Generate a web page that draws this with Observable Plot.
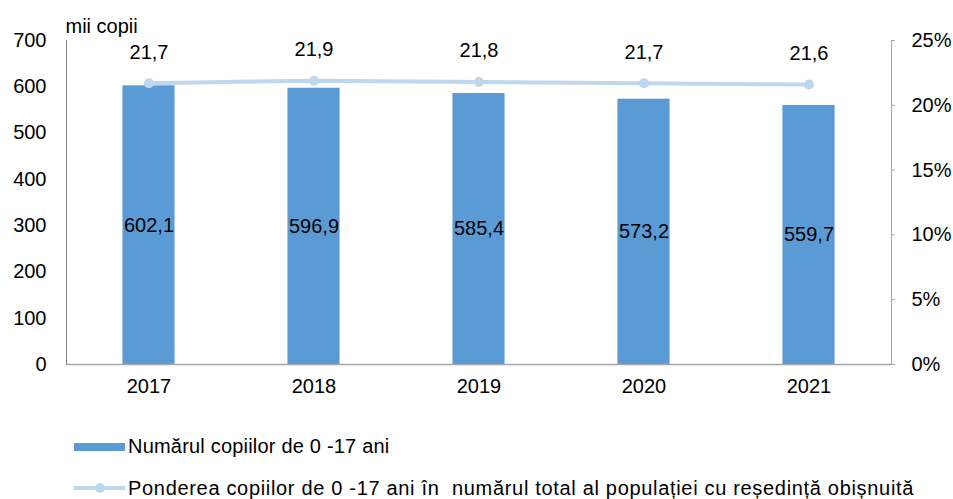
<!DOCTYPE html>
<html><head><meta charset="utf-8">
<script src="https://cdn.jsdelivr.net/npm/d3@7"></script>
<script src="https://cdn.jsdelivr.net/npm/@observablehq/plot@0.6"></script>
<style>
body{margin:0;background:#fff;font-family:"Liberation Sans",Arial,sans-serif;}
#wrap{position:relative;width:953px;height:499px;}
.leg{position:absolute;left:74px;display:flex;align-items:center;font-size:20px;color:#000;white-space:pre;}
.sw{display:inline-block;width:51px;height:8px;background:#5B9BD5;margin-right:3px;}
</style></head>
<body><div id="wrap"><div id="chart"></div>
<div class="leg" style="top:435px"><span class="sw"></span><span id="l1" style="letter-spacing:0.2px"></span></div>
<div class="leg" style="top:476px"><svg width="54" height="24"><line x1="0" x2="51" y1="12" y2="12" stroke="#BDD7EE" stroke-width="4"/><circle cx="26" cy="12" r="5" fill="#BDD7EE"/></svg><span id="l2" style="letter-spacing:0.68px"></span></div>
</div>
<script>
const years = ["2017", "2018", "2019", "2020", "2021"];
const counts = [602.1, 596.9, 585.4, 573.2, 559.7];
const shares = [21.7, 21.9, 21.8, 21.7, 21.6];
const leftTicks = [0, 100, 200, 300, 400, 500, 600, 700];
const rightTicks = [0, 5, 10, 15, 20, 25];
const seriesNames = ["Numărul copiilor de 0 -17 ani", "Ponderea copiilor de 0 -17 ani în  numărul total al populației cu reședință obișnuită"];
const unitLabel = "mii copii";

const k = 700 / 25;
const data = years.map((y, i) => ({year: y, count: counts[i], share: shares[i]}));
const fmt = v => v.toFixed(1).replace(".", ",");

const chart = Plot.plot({
  width: 953, height: 420,
  marginLeft: 66, marginRight: 62, marginTop: 40, marginBottom: 56,
  x: {domain: years, paddingInner: 0.684, paddingOuter: 0.342, round: false, label: null},
  y: {domain: [0, 700], label: null},
  style: {fontFamily: "'Liberation Sans', Arial, sans-serif", fontSize: "20px", color: "#000", background: "#fff"},
  marks: [
    Plot.barY(data, {x: "year", y: "count", fill: "#5B9BD5"}),
    Plot.text(data, {x: "year", y: d => d.count / 2, text: d => fmt(d.count), fill: "#000"}),
    Plot.lineY(data, {x: "year", y: d => d.share * k, stroke: "#BDD7EE", strokeWidth: 4}),
    Plot.dot(data, {x: "year", y: d => d.share * k, r: 5, fill: "#BDD7EE"}),
    Plot.text(data, {x: "year", y: d => d.share * k, text: d => fmt(d.share), dy: -31, fill: "#000"}),
    Plot.axisY({ticks: leftTicks, tickSize: 0, tickPadding: 20, label: null}),
    Plot.axisY({anchor: "right", ticks: rightTicks.map(v => v * k), tickFormat: v => Math.round(v / k) + "%", tickSize: 3, tickPadding: 17, stroke: "#a6a6a6", label: null}),
    Plot.axisX({tickSize: 0, tickPadding: 14, label: null}),
    Plot.ruleY([0], {stroke: "#a6a6a6", strokeWidth: 1.5}),
    Plot.frame({anchor: "left", stroke: "#808080"}),
    Plot.frame({anchor: "right", stroke: "#a6a6a6"}),
    Plot.text([unitLabel], {frameAnchor: "top-left", dy: -22, dx: -1, textAnchor: "start", fill: "#000", style: "letter-spacing:0.8px"})
  ]
});
document.getElementById("chart").appendChild(chart);
document.getElementById("l1").textContent = seriesNames[0];
document.getElementById("l2").textContent = seriesNames[1];
</script></body></html>
